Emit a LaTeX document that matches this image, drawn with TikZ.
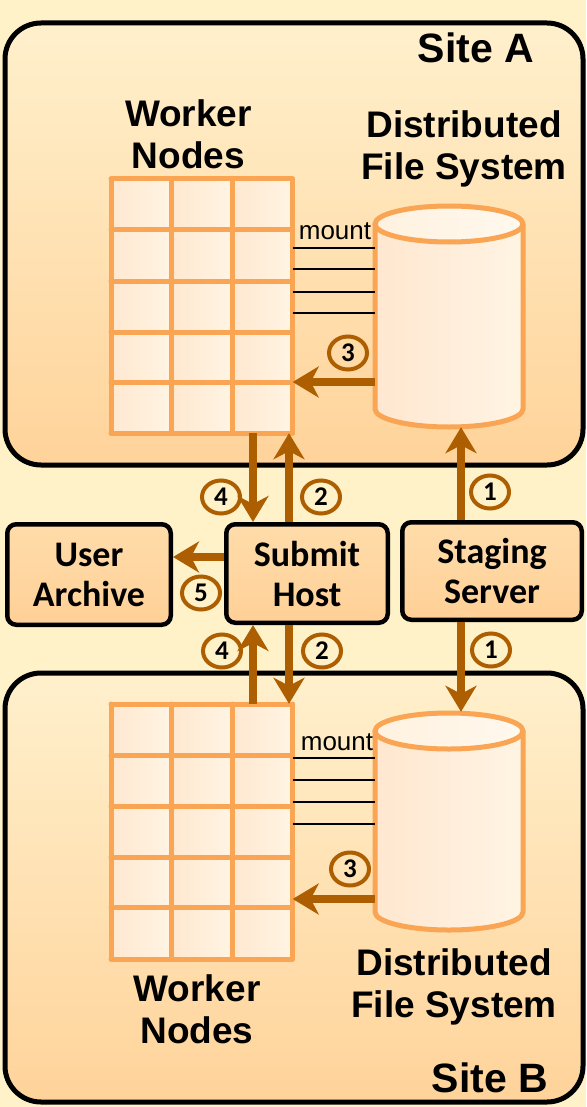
\documentclass[tikz,border=0pt]{standalone}
\usepackage{fontspec}
\setmainfont{Liberation Sans}
\newfontfamily\calib{Carlito}
\usetikzlibrary{arrows.meta,shapes.geometric}

\definecolor{bgc}{HTML}{FFF2C8}
\definecolor{sitetop}{HTML}{FFF0CC}
\definecolor{sitebot}{HTML}{FFD39A}
\definecolor{brn}{HTML}{AD5E00}
\definecolor{org}{HTML}{F9A553}
\definecolor{cellL}{HTML}{FFE8D0}
\definecolor{cellR}{HTML}{FFF4E3}
\definecolor{cylL}{HTML}{FFE7D0}
\definecolor{cylR}{HTML}{FFF4E3}
\definecolor{boxT}{HTML}{FFDCAA}
\definecolor{boxB}{HTML}{FFD097}

\begin{document}
\begin{tikzpicture}[x=1pt,y=-1pt,
  site/.style={draw=black, line width=5pt, rounded corners=36pt, top color=sitetop, bottom color=sitebot},
  hostbox/.style={draw=black, line width=4.5pt, rounded corners=9pt, top color=boxT, bottom color=boxB,
    align=center, inner sep=0pt, font=\calib\bfseries\fontsize{36}{40}\selectfont},
  lbl/.style={align=center, inner sep=0pt, font=\bfseries\fontsize{37}{42}\selectfont},
  sitelbl/.style={inner sep=0pt, font=\bfseries\fontsize{41}{41}\selectfont},
  mountlbl/.style={inner sep=0pt, anchor=base, font=\fontsize{26}{26}\selectfont},
  num/.style={ellipse, draw=brn, line width=4pt, minimum width=38pt, minimum height=33pt, inner sep=0pt,
    font=\calib\bfseries\fontsize{27}{27}\selectfont},
  flow/.style={draw=brn, line width=8pt, -{Stealth[length=26pt,width=31pt,inset=8pt]}},
  gridline/.style={draw=org, line width=5pt, line cap=round},
  cylline/.style={draw=org, line width=5pt},
  mountline/.style={draw=black, line width=1.8pt}
]
\useasboundingbox (0,0) rectangle (586,1107);
\fill[bgc] (0,0) rectangle (586,1107);

% the two sites
\draw[site] (5,23) rectangle (583,465);
\draw[site] (5,673) rectangle (583,1102);

% worker node grids
\foreach \ya/\yb in {179/230,230/281,281/332,332/382.5,382.5/433,
                     704/755.5,755.5/806,806/857,857/907.5,907.5/959}{
  \foreach \xa/\xb in {111/171.5,171.5/232,232/292.5}{
    \shade[left color=cellL, right color=cellR] (\xa,\ya) rectangle (\xb,\yb);
  }
}
\foreach \y in {179,230,281,332,382.5,433}{ \draw[gridline] (111,\y) -- (292.5,\y); }
\foreach \y in {704,755.5,806,857,907.5,959}{ \draw[gridline] (111,\y) -- (292.5,\y); }
\foreach \x in {111,171.5,232,292.5}{
  \draw[gridline] (\x,179) -- (\x,433);
  \draw[gridline] (\x,704) -- (\x,959);
}
\node[inner sep=0pt, minimum width=181.5pt, minimum height=254pt] (gA) at (201.75,306) {};
\node[inner sep=0pt, minimum width=181.5pt, minimum height=255pt] (gB) at (201.75,831.5) {};

% distributed file system cylinders
\shade[left color=cylL, right color=cylR] (375,224) -- (375,409)
  arc[start angle=180, end angle=360, x radius=74pt, y radius=18pt] -- (523,224) -- cycle;
\draw[cylline] (375,224) -- (375,409)
  arc[start angle=180, end angle=360, x radius=74pt, y radius=18pt] -- (523,224);
\shade[left color=cylR!80!cylL, right color=cylR!60!white] (449,224) ellipse [x radius=74pt, y radius=18pt];
\draw[cylline] (449,224) ellipse [x radius=74pt, y radius=18pt];
\node[inner sep=0pt, minimum width=148pt, minimum height=221pt] (cA) at (449,316.5) {};

\shade[left color=cylL, right color=cylR] (375,731) -- (375,912)
  arc[start angle=180, end angle=360, x radius=74pt, y radius=18pt] -- (523,731) -- cycle;
\draw[cylline] (375,731) -- (375,912)
  arc[start angle=180, end angle=360, x radius=74pt, y radius=18pt] -- (523,731);
\shade[left color=cylR!80!cylL, right color=cylR!60!white] (449,731) ellipse [x radius=74pt, y radius=18pt];
\draw[cylline] (449,731) ellipse [x radius=74pt, y radius=18pt];
\node[inner sep=0pt, minimum width=148pt, minimum height=218pt] (cB) at (449,821) {};

% mount lines
\foreach \y in {248,269,292,313}{
  \coordinate (m) at (0,\y);
  \draw[mountline] (gA.east |- m) -- (cA.west |- m);
}
\foreach \y in {758,780,802,824}{
  \coordinate (m) at (0,\y);
  \draw[mountline] (gB.east |- m) -- (cB.west |- m);
}
\node[mountlbl] (mntA) at (335,240) {mount};
\node[mountlbl] (mntB) at (337,750) {mount};

% labels
\node[sitelbl] (siteA) at (476,47.5) {Site A};
\node[sitelbl] (siteB) at (490,1078) {Site B};
\node[lbl] (wnA) at (188.5,134.5) {Worker\\Nodes};
\node[lbl] (dfsA) at (464,149) {Distributed\\File System};
\node[lbl] (wnB) at (197,1009) {Worker\\Nodes};
\node[lbl] (dfsB) at (454,987) {Distributed\\File System};

% hosts between the sites
\node[hostbox, minimum width=163.5pt, minimum height=100.5pt] (ua) at (89,574.5) {User\\Archive};
\node[hostbox, minimum width=161.5pt, minimum height=98.5pt] (sub) at (307,573.5) {Submit\\Host};
\node[hostbox, minimum width=179.5pt, minimum height=97.5pt] (stg) at (492,571) {Staging\\Server};

% data flows
\coordinate (r3A) at (0,382);
\coordinate (r3B) at (0,899);
\draw[flow] (cA.west |- r3A) -- (gA.east |- r3A);
\draw[flow] (cB.west |- r3B) -- (gB.east |- r3B);

\coordinate (u4) at ([xshift=-54pt]sub.north);
\coordinate (u2) at ([xshift=-18pt]sub.north);
\coordinate (d4) at ([xshift=-54pt]sub.south);
\coordinate (d2) at ([xshift=-18pt]sub.south);
\draw[flow] (u4 |- gA.south) -- (u4);
\draw[flow] (u2) -- (u2 |- gA.south);
\draw[flow] (d4 |- gB.north) -- (d4);
\draw[flow] (d2) -- (d2 |- gB.north);

\coordinate (s1) at ([xshift=-31pt]stg.north);
\coordinate (t1) at ([xshift=-31pt]stg.south);
\draw[flow] (s1) -- (s1 |- cA.south);
\draw[flow] (t1) -- (t1 |- cB.north);

\coordinate (r5) at (0,557);
\draw[flow] (sub.west |- r5) -- (ua.east |- r5);

% step numbers
\node[num] (n3A) at (348,353) {3};
\node[num] (n3B) at (350,869) {3};
\node[num] (n4A) at (221,497) {4};
\node[num] (n2A) at (321,497) {2};
\node[num] (n1A) at (490,492) {1};
\node[num] (n5) at (201,593) {5};
\node[num] (n4B) at (222,651) {4};
\node[num] (n2B) at (322,651) {2};
\node[num] (n1B) at (491,650) {1};
\end{tikzpicture}
\end{document}
